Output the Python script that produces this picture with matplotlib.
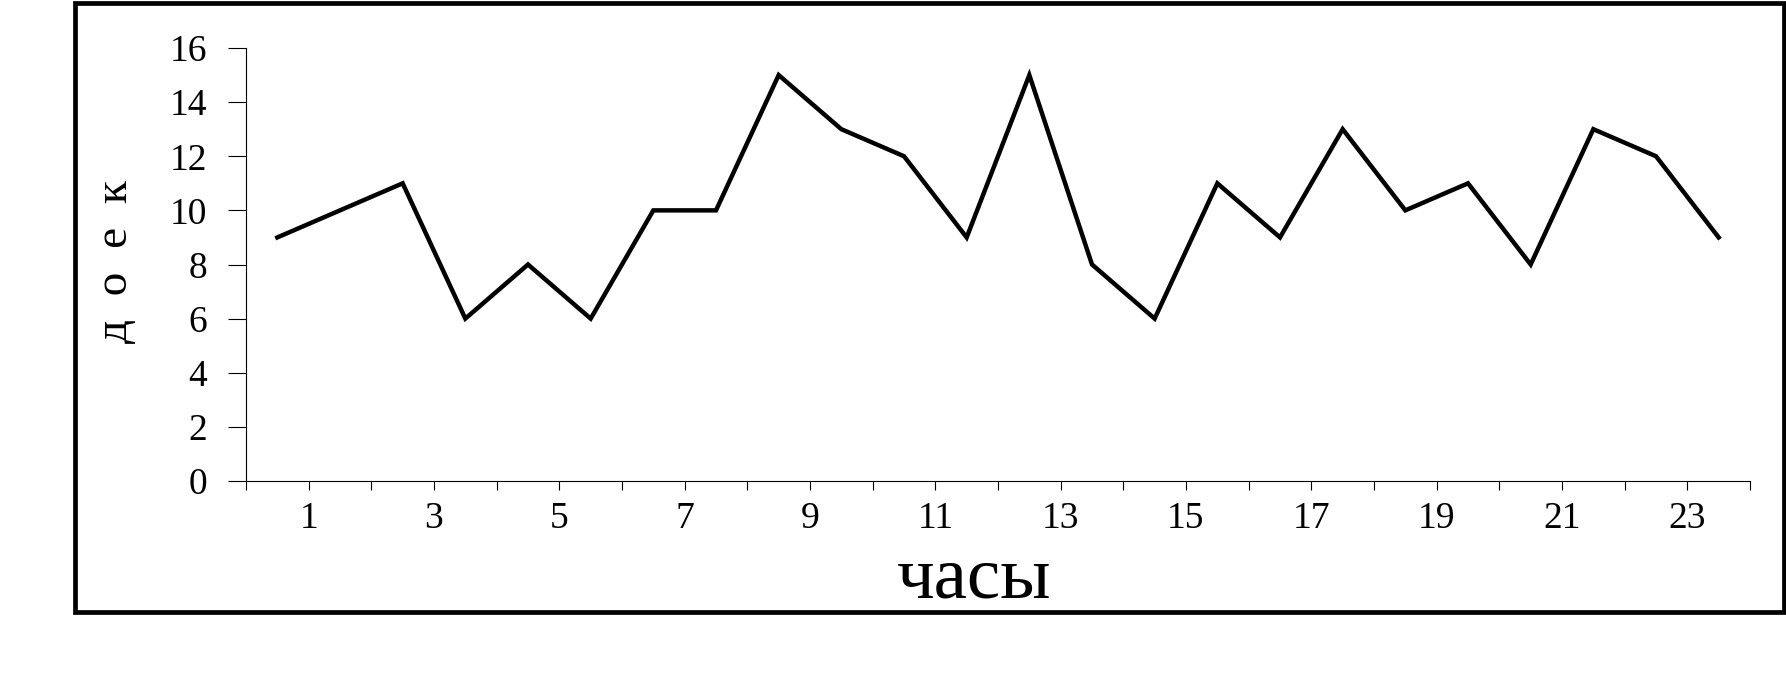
"""Line chart: number of milkings per hour."""

import matplotlib
matplotlib.use("Agg")
import matplotlib.pyplot as plt
from matplotlib.patches import Rectangle
import numpy as np

hours = list(range(1, 25))
milkings = [9, 10, 11, 6, 8, 6, 10, 10, 15, 13, 12, 9,
            15, 8, 6, 11, 9, 13, 10, 11, 8, 13, 12, 9]
tick_labels = [str(h) if h % 2 == 1 else "" for h in range(0, 25)]
y_ticks = [0, 2, 4, 6, 8, 10, 12, 14, 16]

plt.rcParams["font.family"] = ["Liberation Serif", "DejaVu Serif"]

W, H = 1786, 682
fig = plt.figure(figsize=(W / 100, H / 100), dpi=100)
ax = fig.add_axes([246 / W, 1 - 481 / H, (1750 - 246) / W, (481 - 48) / H])

# categories are drawn centred between tick marks
x = np.array(hours) - 0.5
ax.plot(x, milkings, color="black", linewidth=3.2, solid_joinstyle="miter")

ax.set_xlim(0, 24)
ax.set_ylim(0, 16)
ax.set_xticks(range(0, 25))
ax.set_xticklabels(tick_labels)
ax.set_yticks(y_ticks)
ax.tick_params(axis="x", direction="out", length=6.5, width=0.8, pad=8,
               labelsize=27)
ax.tick_params(axis="y", direction="out", length=13, width=0.8, pad=15,
               labelsize=27)
for side in ("top", "right"):
    ax.spines[side].set_visible(False)
for side in ("left", "bottom"):
    ax.spines[side].set_linewidth(0.8)

fig.text(116 / W, 1 - 262 / H, "д  о  е  к", rotation=90,
         ha="center", va="center", fontsize=34)
fig.text(974 / W, 1 - 597 / H, "часы", ha="center", va="baseline",
         fontsize=54)

# thick outer border around the chart area
fig.patches.append(Rectangle((74.5 / W, 1 - 612 / H), (1783.5 - 74.5) / W,
                             (612 - 2.5) / H, transform=fig.transFigure,
                             fill=False, edgecolor="black", linewidth=3.4))

fig.savefig("out.png", dpi=100)
